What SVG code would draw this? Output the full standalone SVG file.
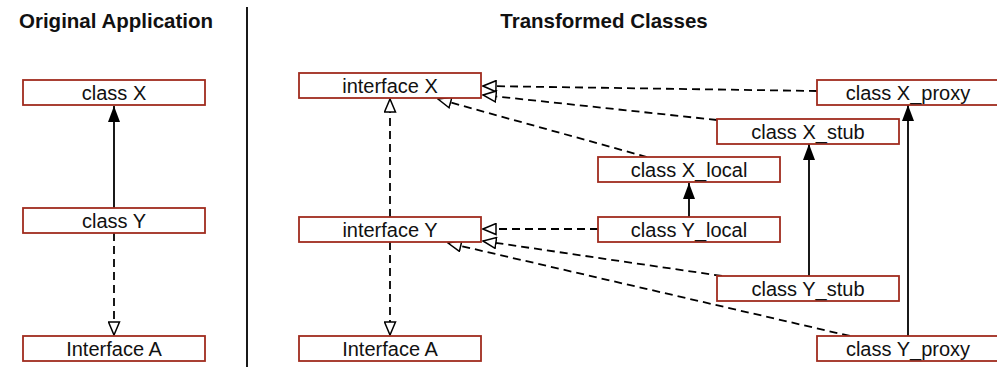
<svg xmlns="http://www.w3.org/2000/svg" width="997" height="367" viewBox="0 0 997 367">
<defs>
<style>
.box rect{fill:#ffffff;stroke:#a02c1e;stroke-width:1.8}
.box text{font-family:"Liberation Sans",Arial,sans-serif;font-size:20px;fill:#111;text-anchor:middle}
.title{font-family:"Liberation Sans",Arial,sans-serif;font-size:20.5px;font-weight:bold;fill:#111;text-anchor:middle}
.solid{fill:none;stroke:#000;stroke-width:1.8;marker-end:url(#filled)}
.dash{fill:none;stroke:#000;stroke-width:1.8;stroke-dasharray:8 5;marker-end:url(#hollow)}
</style>
<marker id="hollow" markerUnits="userSpaceOnUse" viewBox="-1 -1 15 13" markerWidth="15" markerHeight="13" refX="13" refY="5.5" orient="auto">
<path d="M0,0 L13,5.5 L0,11 Z" fill="#fff" stroke="#000" stroke-width="1.5" stroke-dasharray="none"/>
</marker>
<marker id="filled" markerUnits="userSpaceOnUse" viewBox="0 0 16 12" markerWidth="16" markerHeight="12" refX="16" refY="6" orient="auto">
<path d="M0,0 L16,6 L0,12 Z" fill="#000"/>
</marker>
</defs>
<rect width="997" height="367" fill="#fff"/>
<text class="title" x="116" y="28">Original Application</text>
<text class="title" x="604" y="28">Transformed Classes</text>
<line x1="247" y1="7" x2="247" y2="367" stroke="#000" stroke-width="1.8"/>
<g id="connectors">
<path class="solid" d="M114,208 L114,106"/>
<path class="dash" d="M114,233 L114,335"/>
<path class="dash" d="M390,217 L390,99"/>
<path class="dash" d="M390,242 L390,335"/>
<path class="dash" d="M817,91 L483,86"/>
<path class="dash" d="M717,120 L483,95"/>
<path class="dash" d="M647,157 L438,99"/>
<path class="solid" d="M689,217 L689,183"/>
<path class="solid" d="M809,276 L809,144"/>
<path class="solid" d="M908,336 L908,105"/>
<path class="dash" d="M598,229 L483,229"/>
<path class="dash" d="M722,276 L483,241"/>
<path class="dash" d="M850,336 L448,243"/>
</g>
<g id="orig-class-x" class="box"><rect x="23" y="80" width="182" height="25"/><text x="114" y="100">class X</text></g>
<g id="orig-class-y" class="box"><rect x="23" y="208" width="182" height="25"/><text x="114" y="228">class Y</text></g>
<g id="orig-interface-a" class="box"><rect x="23" y="336" width="182" height="25"/><text x="114" y="356">Interface A</text></g>
<g id="interface-x" class="box"><rect x="299" y="73" width="182" height="25"/><text x="390" y="93">interface X</text></g>
<g id="interface-y" class="box"><rect x="299" y="217" width="182" height="25"/><text x="390" y="237">interface Y</text></g>
<g id="interface-a" class="box"><rect x="299" y="336" width="182" height="25"/><text x="390" y="356">Interface A</text></g>
<g id="class-x-proxy" class="box"><rect x="817" y="80" width="182" height="25"/><text x="908" y="100">class X_proxy</text></g>
<g id="class-x-stub" class="box"><rect x="717" y="119" width="182" height="25"/><text x="808" y="139">class X_stub</text></g>
<g id="class-x-local" class="box"><rect x="598" y="157" width="182" height="25"/><text x="689" y="177">class X_local</text></g>
<g id="class-y-local" class="box"><rect x="598" y="217" width="182" height="25"/><text x="689" y="237">class Y_local</text></g>
<g id="class-y-stub" class="box"><rect x="717" y="276" width="182" height="25"/><text x="808" y="296">class Y_stub</text></g>
<g id="class-y-proxy" class="box"><rect x="817" y="336" width="182" height="25"/><text x="908" y="356">class Y_proxy</text></g>
</svg>
